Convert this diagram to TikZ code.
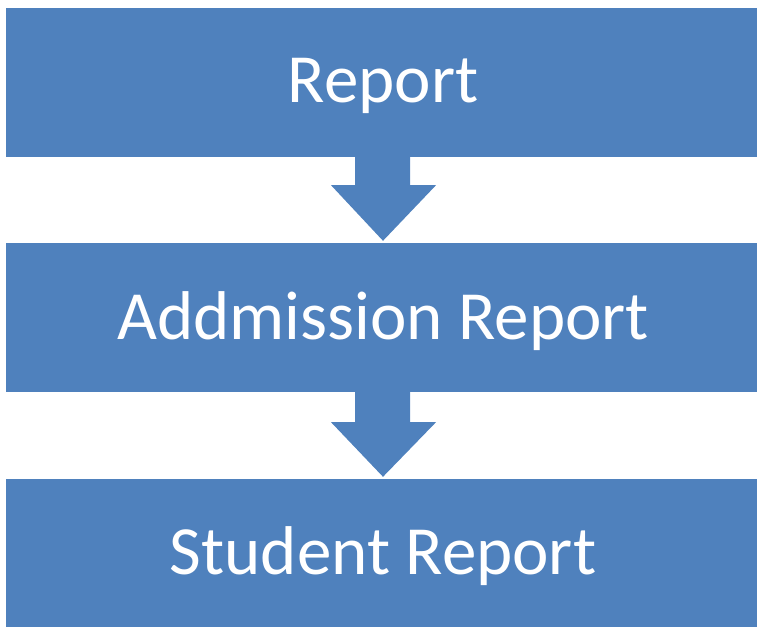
\documentclass[tikz,border=0pt]{standalone}
\usepackage{fontspec}
\setmainfont{Carlito}
\usetikzlibrary{calc}
\definecolor{barblue}{HTML}{4F81BD}
\tikzset{
  bar/.style={fill=barblue, draw=none, minimum width=751pt, minimum height=149pt, inner sep=0pt},
  bartext/.style={text=white, font=\fontsize{69}{82}\selectfont, anchor=base, inner sep=0pt},
  blockarrow/.style={fill=barblue, draw=none}
}
\begin{document}
\begin{tikzpicture}[x=1pt,y=-1pt]
\useasboundingbox (0,0) rectangle (757,631);
\node[bar] (b1) at (381.5,82.5) {};
\node[bar] (b2) at (381.5,317.5) {};
\node[bar, minimum height=148pt] (b3) at (381.5,553) {};
\node[bartext] (t1) at (383,103) {Report};
\node[bartext] (t2) at (383,339) {Addmission Report};
\node[bartext] (t3) at (383,574) {Student Report};
% block arrows
\fill[blockarrow] ($(b1.south)+(-26.5,-1)$) -- ($(b1.south)+(28.5,-1)$) -- ($(b1.south)+(28.5,28)$) -- ($(b1.south)+(54.5,28)$) -- ($(b2.north)+(1.5,-2)$) -- ($(b1.south)+(-50.5,28)$) -- ($(b1.south)+(-26.5,28)$) -- cycle;
\fill[blockarrow] ($(b2.south)+(-26.5,-1)$) -- ($(b2.south)+(28.5,-1)$) -- ($(b2.south)+(28.5,30)$) -- ($(b2.south)+(54.5,30)$) -- ($(b3.north)+(1.5,-2)$) -- ($(b2.south)+(-50.5,30)$) -- ($(b2.south)+(-26.5,30)$) -- cycle;
\end{tikzpicture}
\end{document}
